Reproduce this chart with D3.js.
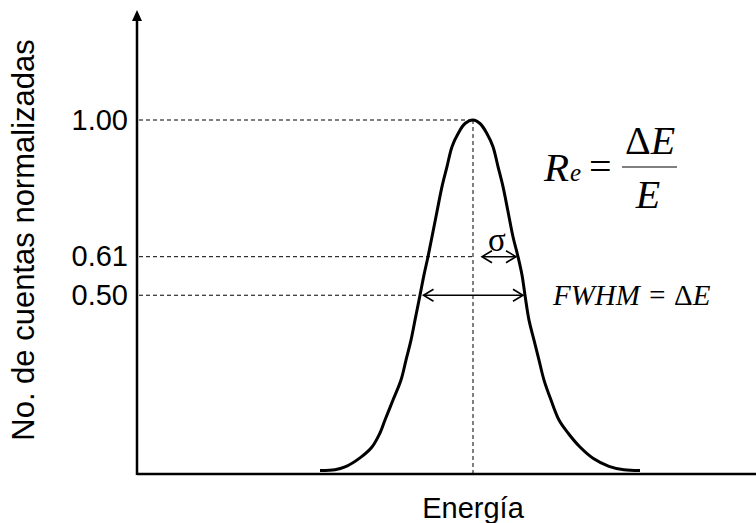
<!DOCTYPE html>
<html>
<head>
<meta charset="utf-8">
<script src="https://cdn.jsdelivr.net/npm/d3@7"></script>
<style>
	body { margin: 0; background: #fff; }
	svg { display: block; }
</style>
</head>
<body>
<svg id="chart"></svg>
<script>
// points (energy in arbitrary units, normalised counts)
const energia = [18.3, 19.8, 20.8, 22.3, 23.5, 24.3, 24.8, 25.6, 26.4, 26.9, 27.4, 27.8, 28.3, 28.7, 29.1, 29.5, 30.0, 30.5, 31.0, 31.5, 32.1, 32.8, 33.6,
	34.3, 35.0, 35.6, 36.1, 36.6, 37.1, 37.6, 38.1, 38.5, 38.8, 39.2, 39.7, 40.2, 40.7, 41.4, 42.2, 43.1, 44.3, 45.6, 47.2, 48.7, 50.3];
const cuentas = [0.0, 0.002, 0.010, 0.036, 0.067, 0.107, 0.144, 0.201, 0.258, 0.315, 0.372, 0.429, 0.5, 0.558, 0.61, 0.667, 0.739, 0.81, 0.867, 0.924, 0.961, 0.99, 1.0,
	0.99, 0.961, 0.924, 0.867, 0.81, 0.739, 0.667, 0.61, 0.558, 0.5, 0.429, 0.372, 0.315, 0.258, 0.201, 0.144, 0.107, 0.067, 0.035, 0.012, 0.002, 0.0];
const yTicks = [1.0, 0.61, 0.5];
const yTickLabels = ['1.00', '0.61', '0.50'];
const xLabel = 'Energía';
const yLabel = 'No. de cuentas normalizadas';

const vWidth = 756;
const vHeight = 523;
const svg = d3.select('#chart').attr('width', vWidth).attr('height', vHeight);

const x = d3.scaleLinear().domain([0, 62]).range([137, 757]);
const y = d3.scaleLinear().domain([-0.01, 1]).range([474, 120]);

const pts = energia.map((e, i) => ({ e: e, c: cuentas[i] }));
const iPeak = d3.maxIndex(cuentas);
const ePeak = energia[iPeak];

// energy where the curve crosses a level, on one side of the peak
function crossing(level, side) {
	let i = iPeak;
	while (i + side >= 0 && i + side < pts.length && pts[i + side].c > level) i += side;
	const a = pts[i], b = pts[i + side];
	return a.e + (b.e - a.e) * (a.c - level) / (a.c - b.c);
}

const x0 = x.range()[0];
const yBase = y.range()[0];

// dashed guides
const dash = svg.append('g').attr('stroke', '#000').attr('stroke-width', 1).attr('stroke-dasharray', '4,3');
dash.append('line').attr('x1', x0 + 2).attr('x2', x(ePeak)).attr('y1', y(1)).attr('y2', y(1));
dash.append('line').attr('x1', x0 + 2).attr('x2', x(ePeak)).attr('y1', y(0.61)).attr('y2', y(0.61));
dash.append('line').attr('x1', x0 + 2).attr('x2', x(crossing(0.5, -1))).attr('y1', y(0.5)).attr('y2', y(0.5));
dash.append('line').attr('x1', x(ePeak)).attr('x2', x(ePeak)).attr('y1', y(1)).attr('y2', yBase);

// the peak
const line = d3.line().x(d => x(d.e)).y(d => y(d.c)).curve(d3.curveCatmullRom);
svg.append('path').datum(pts).attr('d', line)
	.attr('fill', 'none').attr('stroke', '#000').attr('stroke-width', 3).attr('stroke-linejoin', 'round');

// axes
svg.append('line').attr('x1', x0).attr('x2', x0).attr('y1', yBase + 1).attr('y2', 20)
	.attr('stroke', '#000').attr('stroke-width', 2.5);
svg.append('path').attr('d', `M${x0},10 L${x0 - 5},21 L${x0 + 5},21 Z`).attr('fill', '#000');
svg.append('line').attr('x1', x0).attr('x2', vWidth).attr('y1', yBase).attr('y2', yBase)
	.attr('stroke', '#000').attr('stroke-width', 2.5);

const yAxis = d3.axisLeft(y).tickValues(yTicks).tickSize(0).tickPadding(9)
	.tickFormat((d, i) => yTickLabels[i]);
const gy = svg.append('g').attr('transform', `translate(${x0},0)`).call(yAxis);
gy.select('.domain').remove();
gy.selectAll('text').attr('font-family', 'Liberation Sans, Arial, sans-serif').attr('font-size', 29).attr('fill', '#000');

// double arrows
function arrow(xa, xb, yy) {
	const g = svg.append('g').attr('stroke', '#000').attr('stroke-width', 1.6).attr('fill', 'none');
	g.append('line').attr('x1', xa).attr('x2', xb).attr('y1', yy).attr('y2', yy);
	g.append('path').attr('d', `M${xa + 10},${yy - 6} L${xa},${yy} L${xa + 10},${yy + 6}`);
	g.append('path').attr('d', `M${xb - 10},${yy - 6} L${xb},${yy} L${xb - 10},${yy + 6}`);
}
arrow(x(crossing(0.5, -1)) + 3.5, x(crossing(0.5, 1)) - 2, y(0.5));
arrow(x(ePeak) + 9, x(crossing(0.61, 1)) - 2, y(0.61));

const serif = 'Liberation Serif, Times New Roman, serif';
svg.append('text').attr('x', 497).attr('y', 251).attr('text-anchor', 'middle')
	.attr('font-family', serif).attr('font-size', 33).text('σ');

// formula R_e = ΔE / E
const f = svg.append('g').attr('font-family', serif).attr('font-style', 'italic').attr('fill', '#000');
f.append('text').attr('x', 544).attr('y', 181).attr('font-size', 41).text('R');
f.append('text').attr('x', 570).attr('y', 181).attr('font-size', 25).text('e');
f.append('text').attr('x', 589).attr('y', 180).attr('font-size', 40).attr('font-style', 'normal').text('=');
f.append('line').attr('x1', 622).attr('x2', 677).attr('y1', 167).attr('y2', 167).attr('stroke', '#000').attr('stroke-width', 1.2);
const num = f.append('text').attr('x', 650).attr('y', 154).attr('text-anchor', 'middle').attr('font-size', 40);
num.append('tspan').attr('font-style', 'normal').text('Δ');
num.append('tspan').text('E');
f.append('text').attr('x', 648).attr('y', 208).attr('text-anchor', 'middle').attr('font-size', 40).text('E');

const fw = svg.append('text').attr('x', 553).attr('y', 305).attr('font-family', serif).attr('font-style', 'italic')
	.attr('font-size', 29);
fw.append('tspan').text('FWHM = ');
fw.append('tspan').attr('font-style', 'normal').text('Δ');
fw.append('tspan').text('E');

svg.append('text').attr('x', x(ePeak)).attr('y', 518).attr('text-anchor', 'middle')
	.attr('font-family', 'Liberation Sans, Arial, sans-serif').attr('font-size', 29).text(xLabel);
svg.append('text').attr('transform', `translate(34,240) rotate(-90)`).attr('text-anchor', 'middle')
	.attr('font-family', 'Liberation Sans, Arial, sans-serif').attr('font-size', 31).text(yLabel);
</script>
</body>
</html>
